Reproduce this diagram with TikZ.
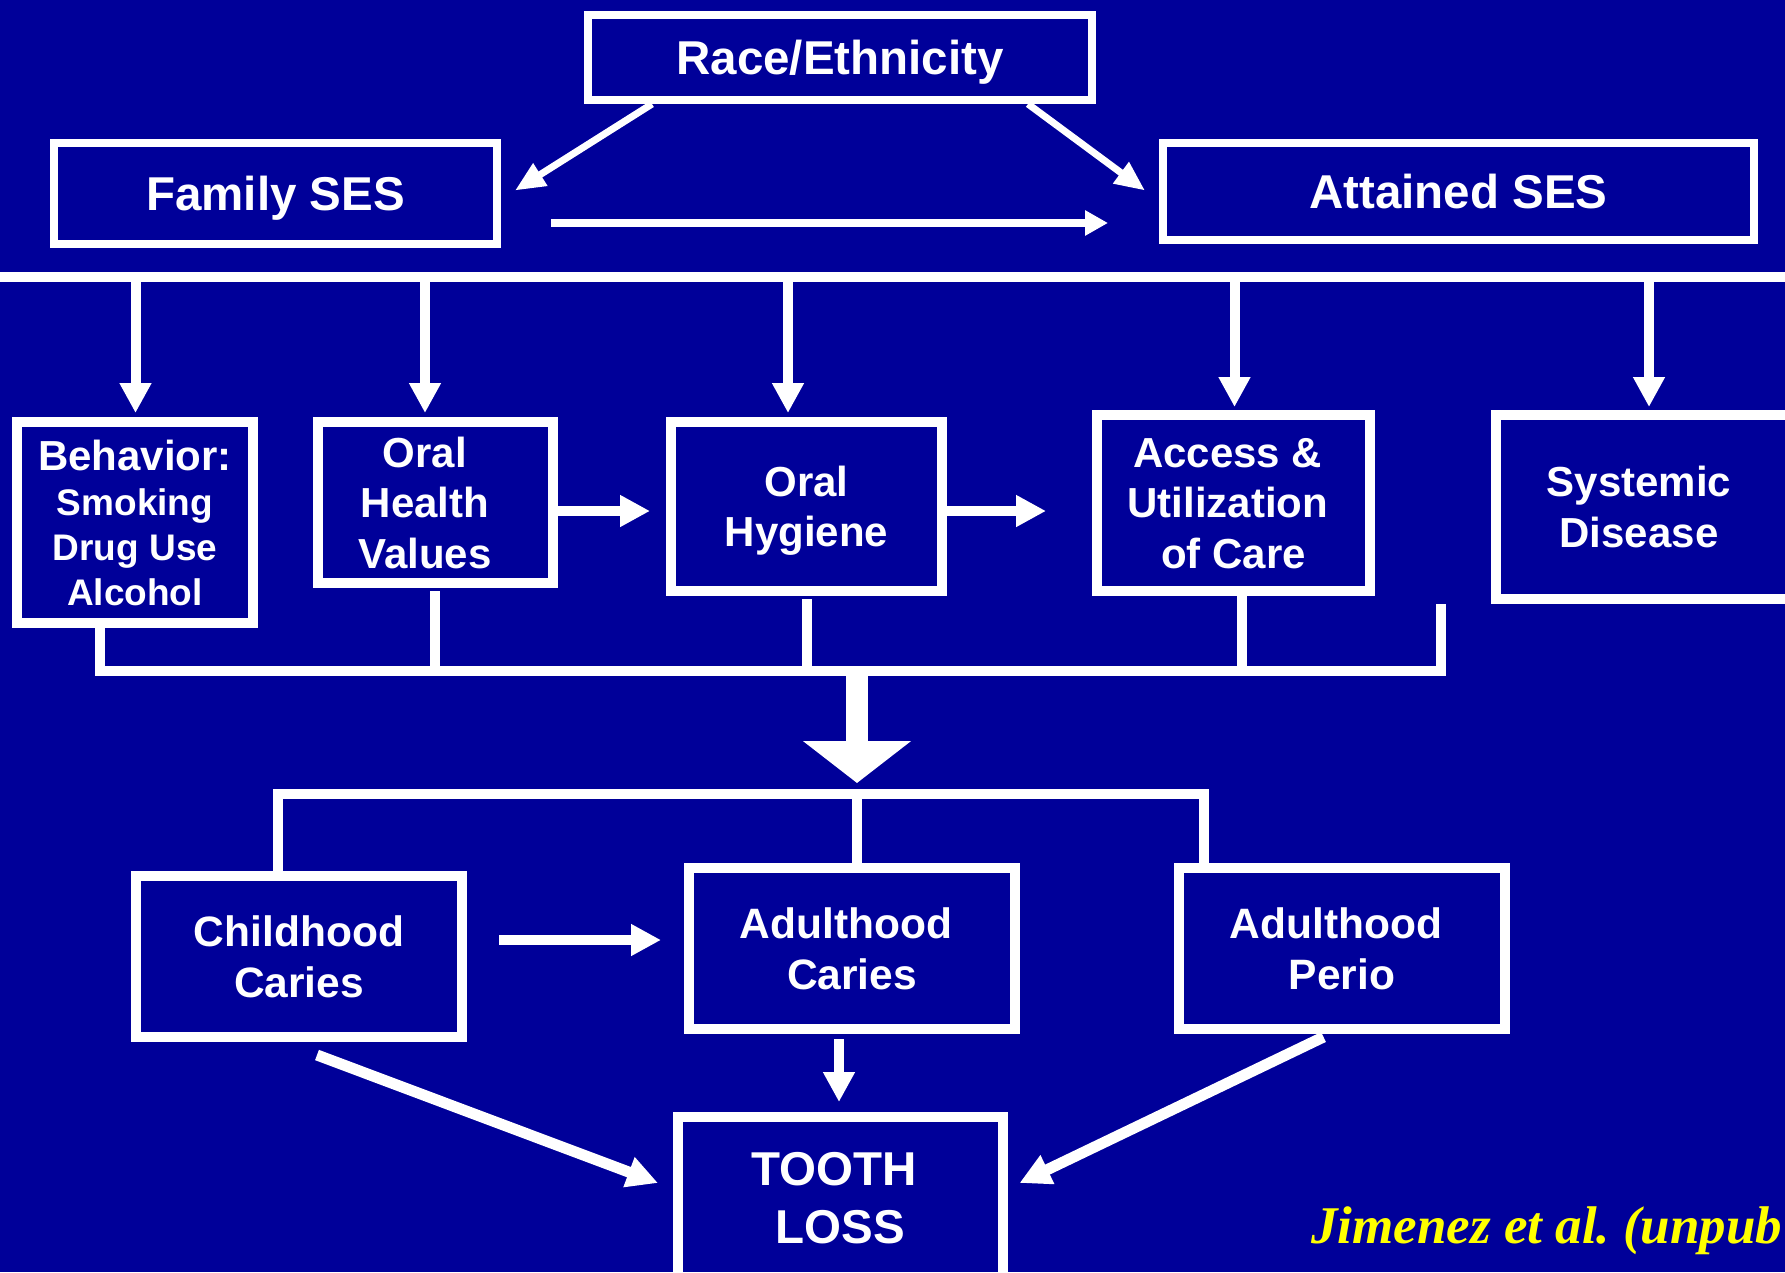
\documentclass[tikz,border=0pt]{standalone}
\usepackage{fontspec}
\setmainfont{Liberation Sans}
\newfontfamily\citefont{Liberation Serif}
\usetikzlibrary{arrows.meta,calc}
\definecolor{bgblue}{RGB}{0,0,153}
\definecolor{citeyellow}{RGB}{255,255,0}
\newcommand{\bigline}{\fontsize{42}{45}\selectfont}
\newcommand{\trsp}{\hphantom{\ }}
\begin{document}
\begin{tikzpicture}[x=1pt,y=-1pt,
  box/.style={draw=white, line width=10pt, text=white, align=center, inner sep=0pt, text depth=0pt,
    font=\bfseries\fontsize{42}{50.5}\selectfont},
  topbox/.style={box, line width=8pt, font=\bfseries\fontsize{47.5}{57}\selectfont},
  bigtxt/.style={font=\bfseries\fontsize{47.5}{58}\selectfont},
  lbl/.style={text=white, align=center, inner sep=0pt, text depth=0pt, font=\bfseries\fontsize{42}{50.5}\selectfont},
  link/.style={draw=white, line width=10pt},
  arr/.style={link, -{Triangle[length=30pt,width=30pt]}},
  thinarr/.style={draw=white, line width=7pt, -{Triangle[length=30pt,width=25pt]}},
  midarr/.style={draw=white, line width=8pt, -{Triangle[length=23pt,width=24pt]}},
  diagarr/.style={draw=white, line width=11pt, -{Triangle[length=31pt,width=30pt]}},
  bigarr/.style={draw=white, line width=22pt, -{Triangle[length=42pt,width=106pt]}}
]
\fill[bgblue] (0,0) rectangle (1785,1272);
\useasboundingbox (0,0) rectangle (1785,1272);

% top row
\node[topbox, minimum width=504pt, minimum height=85pt] (race) at (840,57.5) {Race/Ethnicity};
\node[topbox, minimum width=443pt, minimum height=101pt] (fam) at (275.5,193.5) {Family SES};
\node[topbox, minimum width=591pt, minimum height=97pt] (att) at (1458.5,191.5) {Attained SES};

\draw[thinarr] ($(race.south west)+(68,0)$) -- ($(fam.east)+(14,-3)$);
\draw[thinarr] ($(race.south east)+(-68,0)$) -- ($(att.west)+(-14,-1)$);
\draw[midarr] ($(fam.east)+(50,29.5)$) -- ($(att.west)+(-51,31.5)$);

% middle row
\node[box, font=\bfseries\fontsize{37}{45}\selectfont, minimum width=236pt, minimum height=201pt] (beh) at (135,522.5)
  {\bigline Behavior:\\Smoking\\Drug Use\\Alcohol};
\node[box, minimum width=235pt, minimum height=161pt] (ohv) at (435.5,502.5) {};
\node[lbl] (ohvt) at (425,502.5) {Oral\\Health\\Values};
\node[box, minimum width=271pt, minimum height=169pt] (oh) at (806.5,506.5) {Oral\\Hygiene};
\node[box, minimum width=273pt, minimum height=176pt] (acc) at (1233.5,503) {Access \&\trsp\\Utilization\trsp\\of Care};
\node[box, minimum width=324pt, minimum height=184pt] (sysbox) at (1658,507) {};
\node[lbl] (sys) at (1639,507) {Systemic\\Disease};

% top bus and drops
\coordinate (busL) at (-10,277);
\coordinate (busR) at (1800,277);
\draw[link] (busL) -- (busR);
\coordinate (d1) at (135.5,277);
\coordinate (d2) at (425,277);
\coordinate (d3) at (788,277);
\coordinate (d4) at (1234.5,277);
\coordinate (d5) at (1649,277);
\draw[arr] (d1) -- ($(d1 |- beh.north)+(0,-4)$);
\draw[arr] (d2) -- ($(d2 |- ohv.north)+(0,-4)$);
\draw[arr] (d3) -- ($(d3 |- oh.north)+(0,-4)$);
\draw[arr] (d4) -- ($(d4 |- acc.north)+(0,-3)$);
\draw[arr] (d5) -- ($(d5 |- sysbox.north)+(0,-3)$);

\draw[arr] ($(ohv.east)+(0,8.5)$) -- ($(oh.west)+(-16,4.5)$);
\draw[arr] ($(oh.east)+(0,4.5)$) -- ($(acc.west)+(-46,8)$);

% lower bus
\coordinate (busB) at (99.5,671);
\coordinate (busE) at (1440.5,671);
\coordinate (riseTop) at (1440.5,604);
\draw[link] ($(beh.south west)+(87.5,0)$) -- (busB) -- (busE) -- (riseTop);
\coordinate (o1) at ($(ohv.south)+(-1,3)$);
\coordinate (o2) at ($(oh.south)+(0.5,3)$);
\coordinate (o3) at ($(acc.south)+(8,0)$);
\draw[link] (o1) -- (o1 |- busB);
\draw[link] (o2) -- (o2 |- busB);
\draw[link] (o3) -- (o3 |- busB);

% big arrow
\coordinate (bigS) at (857,671);
\coordinate (bigT) at (857,783);
\draw[bigarr] (bigS) -- (bigT);

% bottom row
\node[box, font=\bfseries\fontsize{42.5}{50.5}\selectfont, minimum width=326pt, minimum height=161pt] (ch) at (299,956.5) {Childhood\\Caries};
\node[box, font=\bfseries\fontsize{42.5}{50.5}\selectfont, minimum width=326pt, minimum height=161pt] (adc) at (852,948.5) {Adulthood\trsp\\Caries};
\node[box, font=\bfseries\fontsize{42.5}{50.5}\selectfont, minimum width=326pt, minimum height=161pt] (per) at (1342,948.5) {Adulthood\trsp\\Perio};
\node[box, bigtxt, minimum width=325pt, minimum height=162pt] (tooth) at (840.5,1198) {TOOTH\trsp\\LOSS};

\coordinate (c2L) at (277.5,793.5);
\coordinate (c2M) at (857,793.5);
\coordinate (c2R) at (1204,793.5);
\draw[link] (c2L |- ch.north) -- (c2L) -- (c2R) -- (c2R |- per.north);
\draw[link] (c2M) -- (c2M |- adc.north);

\draw[arr] ($(ch.east)+(32,-16.5)$) -- ($(adc.west)+(-23,-8.5)$);
\draw[arr] ($(adc.south)+(-13,5)$) -- ($(tooth.north)+(-1.5,-10)$);
\draw[diagarr] ($(ch.south)+(18,13)$) -- ($(tooth.west)+(-15,-15)$);
\draw[diagarr] ($(per.south)+(-18.5,3)$) -- ($(tooth.east)+(11.5,-15)$);

% citation
\node[anchor=base west, inner sep=0pt, text=citeyellow,
  font=\citefont\bfseries\itshape\fontsize{53}{60}\selectfont] (cite) at (1311,1243) {Jimenez et al.\ (unpub};
\end{tikzpicture}
\end{document}
